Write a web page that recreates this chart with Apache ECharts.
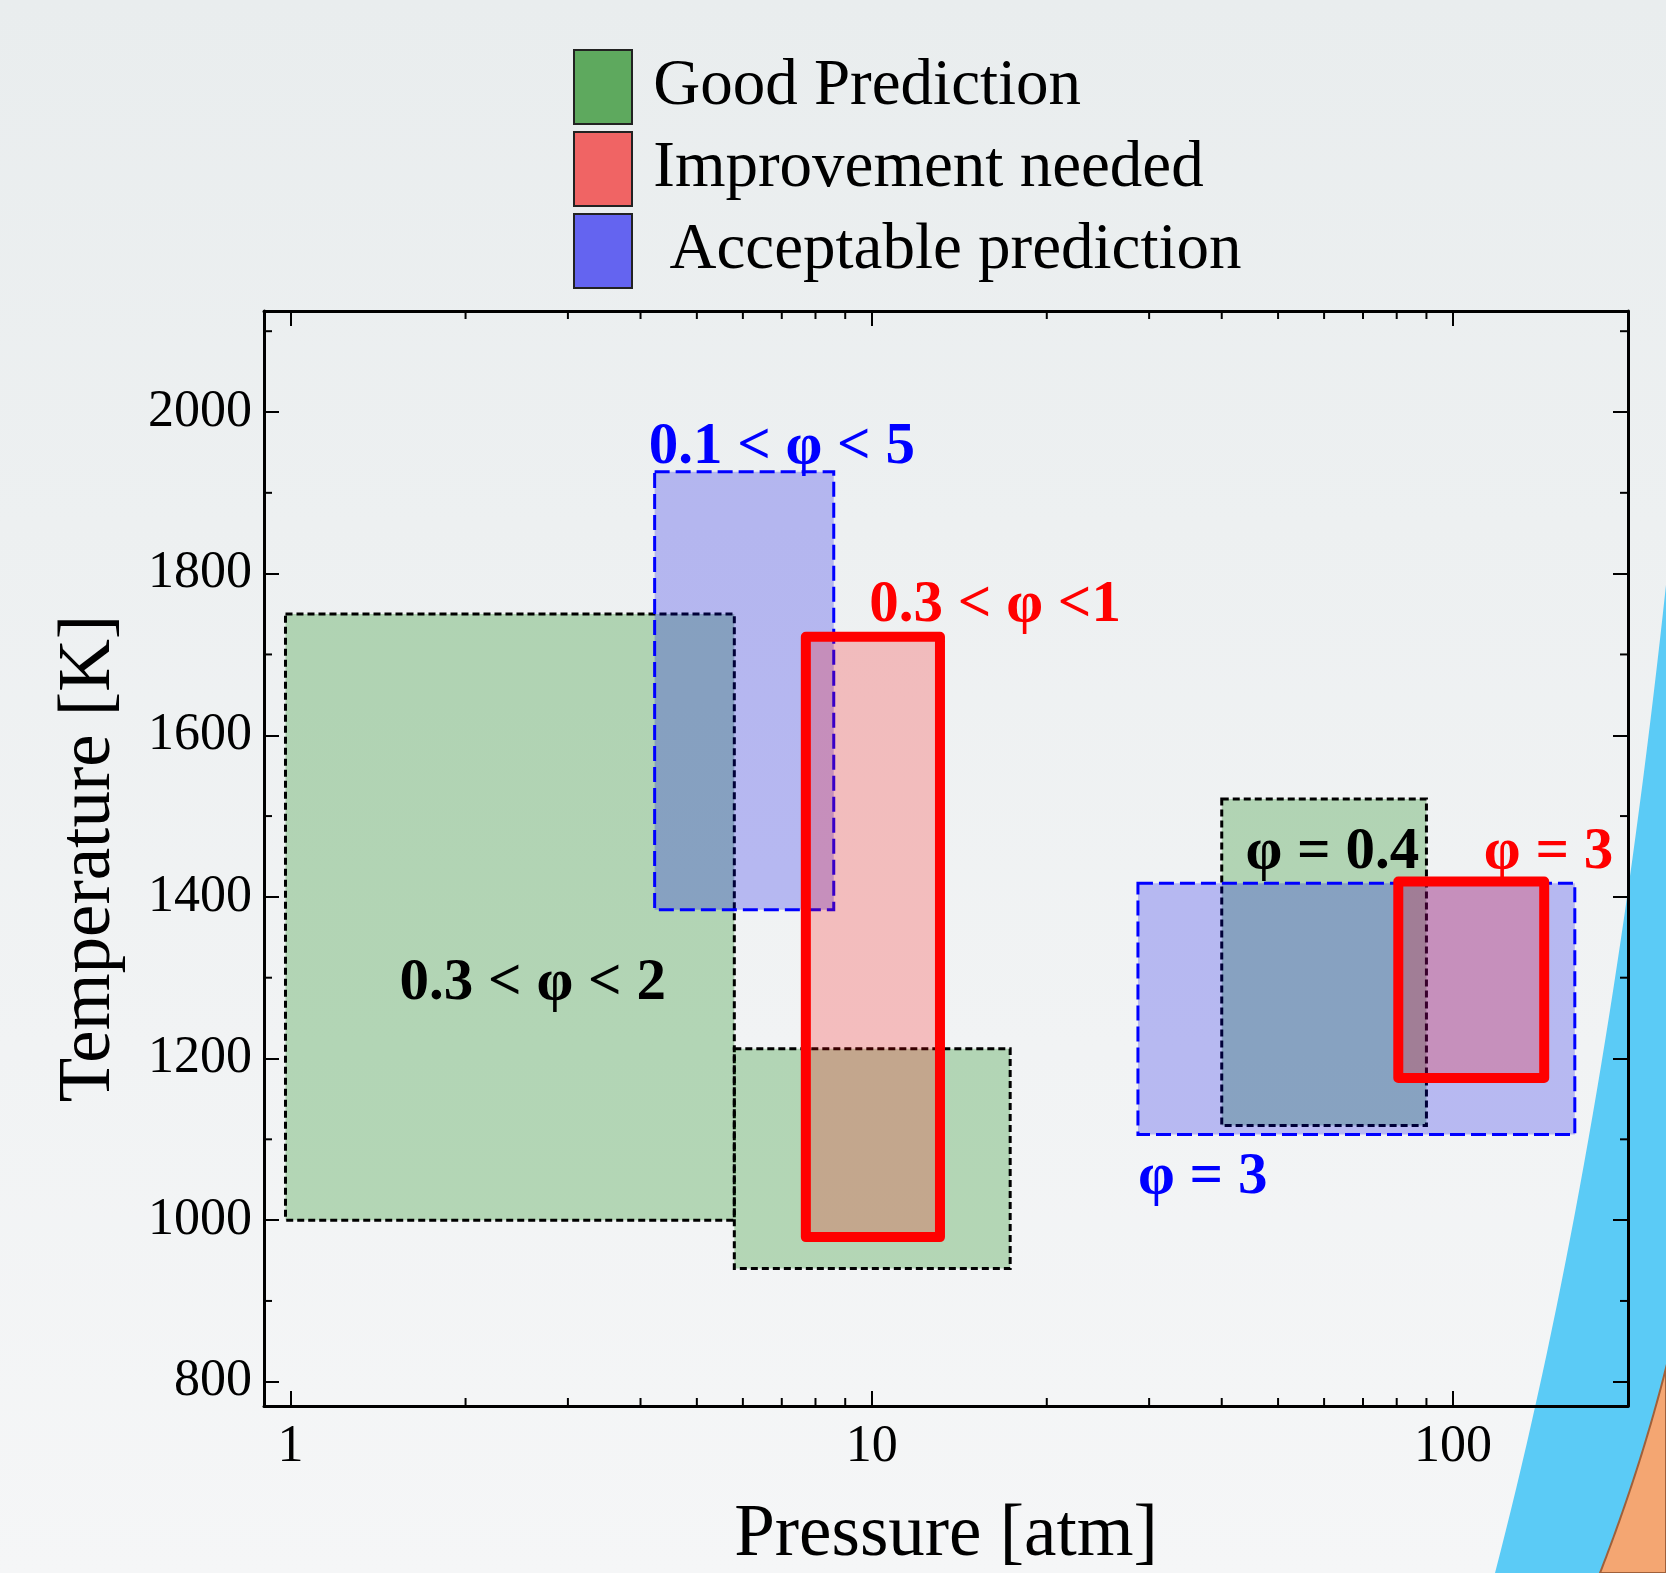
<!DOCTYPE html>
<html lang="en" style="height: 100%">
<head>
  <meta charset="utf-8">
</head>
<body style="height: 100%; margin: 0">
  <div id="container" style="height: 100%"></div>

  <script type="text/javascript" src="https://cdn.jsdelivr.net/npm/echarts@6.0.0/dist/echarts.min.js"></script>
  <script type="text/javascript">
    var dom = document.getElementById('container');
    var myChart = echarts.init(dom, null, { renderer: 'canvas' });

    // axis ranges
    var pressureRange = [0.9, 200];
    var temperatureRange = [770, 2125];

    // tick values
    var pressureTicks = [1, 10, 100];
    var pressureMinorTicks = [2, 3, 4, 5, 6, 7, 8, 9, 20, 30, 40, 50, 60, 70, 80, 90];
    var temperatureTicks = [800, 1000, 1200, 1400, 1600, 1800, 2000];
    var temperatureMinorTicks = [900, 1100, 1300, 1500, 1700, 1900, 2100];

    var seriesNames = ['Good Prediction', 'Improvement needed', 'Acceptable prediction'];

    // boxes: [pressure from, pressure to, temperature from, temperature to]
    var goodBoxes = [
      [0.98, 5.8, 1000, 1750],
      [5.8, 17.3, 940, 1212],
      [40, 90, 1117, 1521]
    ];
    var improvementBoxes = [
      [7.7, 13.1, 979, 1722],
      [80.5, 143.5, 1176, 1419]
    ];
    var acceptableBoxes = [
      [4.23, 8.6, 1384, 1926],
      [28.7, 162, 1106, 1417]
    ];

    // annotations (centre given in pressure / temperature)
    var noteLabels = ['0.1 < φ < 5', '0.3 < φ <1', '0.3 < φ < 2', 'φ = 0.4', 'φ = 3', 'φ = 3'];
    var notePressure = [7.0, 16.3, 2.61, 62, 146, 37.1];
    var noteTemperature = [1956, 1760, 1292, 1455, 1455, 1052];
    var noteKind = ['acceptable', 'improvement', 'good', 'good', 'improvement', 'acceptable'];

    var serif = '"Liberation Serif", "Times New Roman", serif';
    var noteColors = { good: '#000000', improvement: '#ff0000', acceptable: '#0000ff' };

    function boxRenderer(style) {
      return function (params, api) {
        var a = api.coord([api.value(0), api.value(3)]);
        var b = api.coord([api.value(1), api.value(2)]);
        return {
          type: 'rect',
          shape: { x: a[0], y: a[1], width: b[0] - a[0], height: b[1] - a[1] },
          style: style
        };
      };
    }

    function isIn(list, v) {
      for (var i = 0; i < list.length; i++) {
        if (Math.abs(list[i] - v) < 1e-6 * list[i]) return true;
      }
      return false;
    }

    // slide decoration on the right (quadratic curve closed to the corner)
    function swoosh(p0, c, p1) {
      var pts = [];
      for (var k = 0; k <= 40; k++) {
        var t = k / 40, u = 1 - t;
        pts.push([u * u * p0[0] + 2 * t * u * c[0] + t * t * p1[0],
                  u * u * p0[1] + 2 * t * u * c[1] + t * t * p1[1]]);
      }
      pts.push([1666, 1573]);
      return pts;
    }

    var majorLen = 15, minorLen = 8;

    var logAxisBase = {
      type: 'log',
      logBase: 10,
      min: pressureRange[0],
      max: pressureRange[1],
      axisLine: { show: true, onZero: false, lineStyle: { color: '#000', width: 3 } },
      axisTick: { show: true, inside: true, length: majorLen, lineStyle: { color: '#000', width: 2 } },
      splitLine: { show: false },
      minorTick: { show: false }
    };
    var valueAxisBase = {
      type: 'value',
      min: temperatureRange[0],
      max: temperatureRange[1],
      splitNumber: 7,
      axisLine: { show: true, onZero: false, lineStyle: { color: '#000', width: 3 } },
      axisTick: { show: true, inside: true, length: majorLen, lineStyle: { color: '#000', width: 2 } },
      splitLine: { show: false }
    };

    var option = {
      backgroundColor: {
        type: 'linear', x: 0, y: 0, x2: 0, y2: 1,
        colorStops: [{ offset: 0, color: '#e9edee' }, { offset: 1, color: '#f5f6f7' }]
      },
      animation: false,
      graphic: [
        {
          type: 'polygon', z: -10, silent: true,
          shape: { points: swoosh([1666, 585], [1605, 1150], [1495, 1573]) },
          style: { fill: '#5bcbf6' }
        },
        {
          type: 'polygon', z: -9, silent: true,
          shape: { points: swoosh([1666, 1368], [1640, 1470], [1600, 1573]) },
          style: { fill: '#f4a672', stroke: '#a0603a', lineWidth: 2 }
        }
      ],
      legend: {
        orient: 'vertical',
        left: 568,
        top: 44,
        itemWidth: 58,
        itemHeight: 74,
        itemGap: 6,
        icon: 'rect',
        selectedMode: false,
        formatter: function (name) {
          return (name === 'Acceptable prediction' ? '  ' : ' ') + name;
        },
        textStyle: { fontFamily: serif, fontSize: 65, color: '#000' },
        data: [
          { name: seriesNames[0], itemStyle: { color: '#5ea95e', borderColor: '#222', borderWidth: 2 } },
          { name: seriesNames[1], itemStyle: { color: '#f06464', borderColor: '#222', borderWidth: 2 } },
          { name: seriesNames[2], itemStyle: { color: '#6464f0', borderColor: '#222', borderWidth: 2 } }
        ]
      },
      grid: {
        left: 264,
        right: 38,
        top: 311,
        bottom: 167,
        outerBoundsMode: 'none',
        containLabel: false
      },
      xAxis: [
        Object.assign({}, logAxisBase, {
          position: 'bottom',
          name: 'Pressure [atm]',
          nameLocation: 'middle',
          nameGap: 93,
          nameMoveOverlap: false,
          nameTextStyle: { fontFamily: serif, fontSize: 73, color: '#000' },
          axisLabel: {
            show: true,
            margin: 15,
            fontFamily: serif,
            fontSize: 52,
            color: '#000',
            showMinLabel: false,
            showMaxLabel: false,
            formatter: function (v) { return isIn(pressureTicks, v) ? String(Math.round(v)) : ''; }
          }
        }),
        Object.assign({}, logAxisBase, {
          position: 'top',
          axisLabel: { show: false }
        })
      ],
      yAxis: [
        Object.assign({}, valueAxisBase, {
          position: 'left',
          name: 'Temperature [K]',
          nameLocation: 'middle',
          nameGap: 138,
          nameRotate: 90,
          nameMoveOverlap: false,
          nameTextStyle: { fontFamily: serif, fontSize: 73, color: '#000' },
          axisLabel: {
            show: true,
            margin: 12,
            fontFamily: serif,
            fontSize: 52,
            color: '#000',
            formatter: function (v) { return temperatureTicks.indexOf(v) >= 0 ? String(v) : ''; }
          }
        }),
        Object.assign({}, valueAxisBase, {
          position: 'right',
          axisLabel: { show: false }
        })
      ],
      series: [
        {
          name: seriesNames[0],
          type: 'custom',
          z: 3,
          itemStyle: { color: '#5ea95e' },
          renderItem: boxRenderer({
            fill: 'rgba(0,128,0,0.26)', stroke: '#000', lineWidth: 3, lineDash: [7, 4]
          }),
          data: goodBoxes
        },
        {
          name: seriesNames[2],
          type: 'custom',
          z: 4,
          itemStyle: { color: '#6464f0' },
          renderItem: boxRenderer({
            fill: 'rgba(0,0,235,0.24)', stroke: '#0000ff', lineWidth: 3, lineDash: [15, 6]
          }),
          data: acceptableBoxes
        },
        {
          name: seriesNames[1],
          type: 'custom',
          z: 5,
          itemStyle: { color: '#f06464' },
          renderItem: boxRenderer({
            fill: 'rgba(255,0,0,0.22)', stroke: '#ff0000', lineWidth: 10, lineJoin: 'round'
          }),
          data: improvementBoxes
        },
        {
          name: 'notes',
          type: 'custom',
          z: 6,
          silent: true,
          renderItem: function (params, api) {
            var i = params.dataIndex;
            var pt = api.coord([api.value(0), api.value(1)]);
            return {
              type: 'text',
              x: pt[0],
              y: pt[1],
              style: {
                text: noteLabels[i],
                fill: noteColors[noteKind[i]],
                font: 'bold 59px ' + serif,
                align: 'center',
                verticalAlign: 'middle'
              }
            };
          },
          data: notePressure.map(function (p, i) { return [p, noteTemperature[i]]; })
        },
        {
          name: 'pressure minor ticks',
          type: 'custom',
          z: 2,
          silent: true,
          renderItem: function (params, api) {
            var lo = api.coord([api.value(0), temperatureRange[0]]);
            var hi = api.coord([api.value(0), temperatureRange[1]]);
            var ls = { stroke: '#000', lineWidth: 2 };
            return {
              type: 'group',
              children: [
                { type: 'line', shape: { x1: lo[0], y1: lo[1], x2: lo[0], y2: lo[1] - minorLen }, style: ls },
                { type: 'line', shape: { x1: hi[0], y1: hi[1], x2: hi[0], y2: hi[1] + minorLen }, style: ls }
              ]
            };
          },
          data: pressureMinorTicks.map(function (v) { return [v, temperatureRange[0]]; })
        },
        {
          name: 'temperature minor ticks',
          type: 'custom',
          z: 2,
          silent: true,
          renderItem: function (params, api) {
            var l = api.coord([pressureRange[0], api.value(1)]);
            var r = api.coord([pressureRange[1], api.value(1)]);
            var ls = { stroke: '#000', lineWidth: 2 };
            return {
              type: 'group',
              children: [
                { type: 'line', shape: { x1: l[0], y1: l[1], x2: l[0] + minorLen, y2: l[1] }, style: ls },
                { type: 'line', shape: { x1: r[0], y1: r[1], x2: r[0] - minorLen, y2: r[1] }, style: ls }
              ]
            };
          },
          data: temperatureMinorTicks.map(function (v) { return [pressureRange[0], v]; })
        }
      ]
    };

    myChart.setOption(option);
    window.addEventListener('resize', myChart.resize);
  </script>
</body>
</html>
